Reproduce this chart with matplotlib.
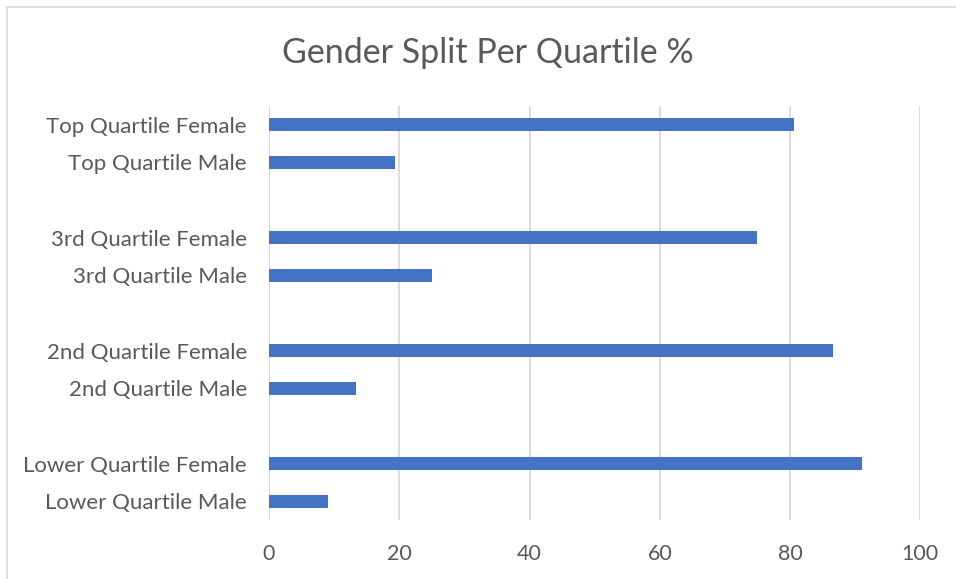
import matplotlib.pyplot as plt
from matplotlib.patches import Rectangle

# data, top to bottom (blank slots separate the quartiles)
labels = ['Top Quartile Female', 'Top Quartile Male', '',
          '3rd Quartile Female', '3rd Quartile Male', '',
          '2nd Quartile Female', '2nd Quartile Male', '',
          'Lower Quartile Female', 'Lower Quartile Male']
values = [80.6, 19.4, 0, 75.0, 25.0, 0, 86.6, 13.4, 0, 91.0, 9.0]
xticks = [0, 20, 40, 60, 80, 100]

txt = '#595959'
plt.rcParams['font.family'] = ['Lato', 'DejaVu Sans']

fig = plt.figure(figsize=(9.56, 5.79), dpi=100)
ax = fig.add_axes([269/956, 1-520/579, (920.3-269)/956, (520-106)/579])

pos = list(range(len(labels)))
ax.barh(pos, values, height=0.35, color='#4472C4', zorder=3)
ax.set_ylim(len(labels)-0.5, -0.5)
ax.set_xlim(0, 100)
ax.set_yticks(pos)
ax.set_yticklabels(labels, fontsize=16, color=txt)
ax.set_xticks(xticks)
ax.set_xticklabels([str(t) for t in xticks], fontsize=15.5, color=txt)
ax.tick_params(length=0)
ax.tick_params(axis='y', pad=16)
ax.tick_params(axis='x', pad=17)
ax.grid(axis='x', color='#D9D9D9', linewidth=1.3, zorder=0)
for s in ax.spines.values():
    s.set_visible(False)

fig.text(487.5/956, 1-53/579, 'Gender Split Per Quartile %', ha='center', va='center',
         fontsize=24.5, color=txt)

# chart border (only left and top visible in the crop)
fig.patches.append(Rectangle((7/956, -0.1), 1.2, 1-7/579+0.1, transform=fig.transFigure,
                             fill=False, edgecolor='#D9D9D9', linewidth=1.2))

plt.savefig('out.png', dpi=100)
